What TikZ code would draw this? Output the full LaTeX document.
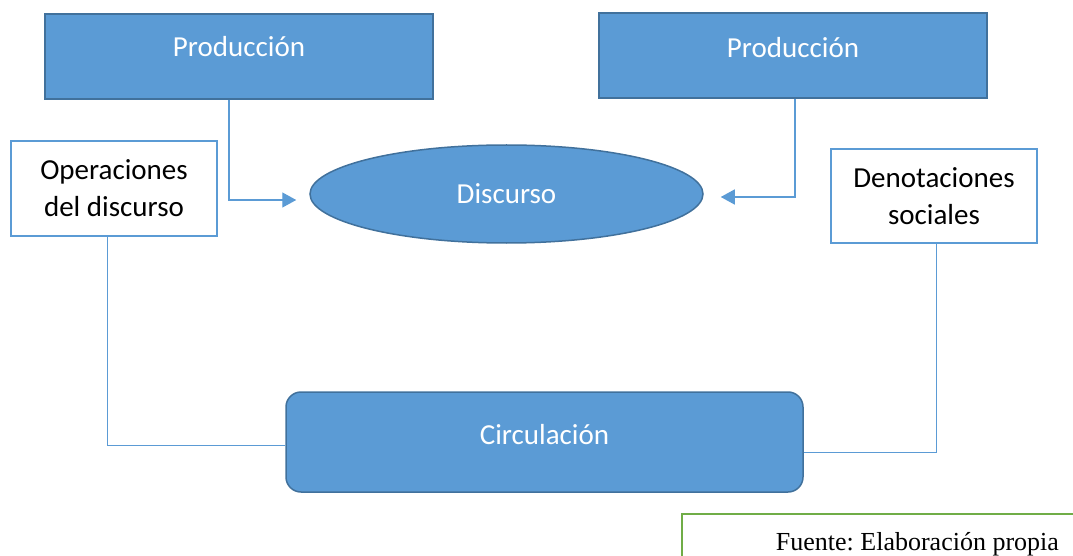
\documentclass[tikz,border=0pt]{standalone}
\usepackage{fontspec}
\setmainfont{Carlito}
\newfontfamily\srcfont{Liberation Serif}
\usetikzlibrary{arrows.meta,shapes.geometric}
\definecolor{BoxClr}{RGB}{91,155,213}
\definecolor{EdgeClr}{RGB}{65,113,156}
\definecolor{SrcClr}{RGB}{112,173,71}
\frenchspacing

\begin{document}
\begin{tikzpicture}[x=1pt,y=-1pt,
  bluebox/.style={draw=EdgeClr,line width=1.5pt,fill=BoxClr,text=white,font=\fontsize{29}{36}\selectfont},
  whitebox/.style={draw=BoxClr,line width=1.8pt,fill=white,align=center,font=\fontsize{29}{37}\selectfont},
  conn/.style={draw=BoxClr,line width=0.9pt},
  arr/.style={draw=BoxClr,line width=1.4pt,-{Triangle[width=15pt,length=14pt]}}]
\useasboundingbox (0,0) rectangle (1073,556);
\clip (0,0) rectangle (1073,556);

\node[bluebox,minimum width=388,minimum height=85,text height=14pt,text depth=14pt] (Prod1) at (239,56.5) {Producción};
\node[bluebox,minimum width=388,minimum height=85,text height=16pt,text depth=12pt] (Prod2) at (793,55.5) {Producción};
\node[bluebox,ellipse,minimum width=393,minimum height=98] (Disc) at (506.5,194) {Discurso};
\node[bluebox,rounded corners=15pt,minimum width=517,minimum height=100,text height=16pt,text depth=12pt] (Circ) at (544.5,442) {Circulación};
\node[whitebox,minimum width=206,minimum height=95] (Oper) at (114,188.5) {Operaciones\\del discurso};
\node[whitebox,minimum width=206,minimum height=94] (Deno) at (934,196) {Denotaciones\\sociales};
\node[draw=SrcClr,line width=1.8pt,anchor=north west,minimum width=471,inner ysep=0pt,text height=37pt,text depth=43pt,font=\srcfont\fontsize{26}{30}\selectfont] (Src) at (681,513) {Fuente: Elaboración propia};

\draw[arr] ([xshift=-10pt]Prod1.south) |- ([xshift=-13pt,yshift=-6pt]Disc.west);
\draw[arr] ([xshift=2pt]Prod2.south) |- ([xshift=17pt,yshift=-3pt]Disc.east);
\draw[conn] ([xshift=-7pt]Oper.south) |- ([yshift=-3pt]Circ.west);
\draw[conn] ([xshift=2pt]Deno.south) |- ([yshift=-10pt]Circ.east);

\end{tikzpicture}
\end{document}
